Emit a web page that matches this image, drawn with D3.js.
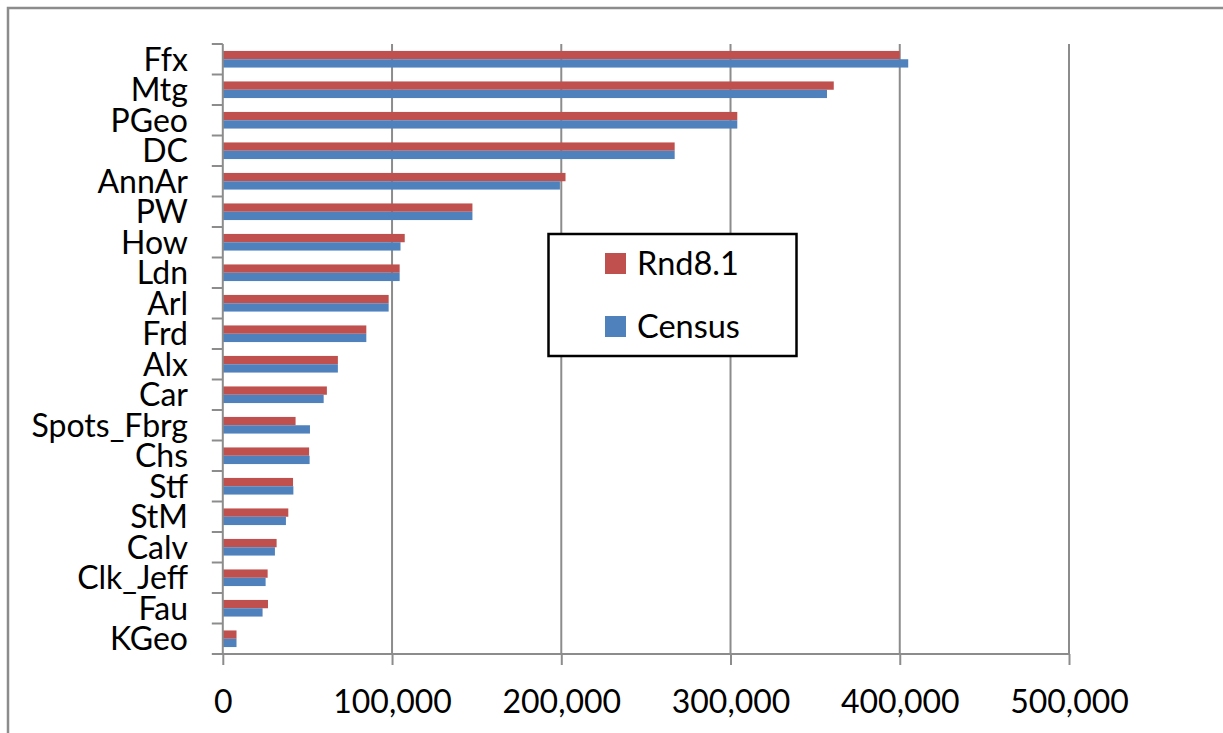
<!DOCTYPE html>
<html>
<head>
<meta charset="utf-8">
<script src="https://cdn.jsdelivr.net/npm/d3@7"></script>
<style>
  html, body { margin: 0; padding: 0; background: #ffffff; }
  svg { display: block; }
  text { font-family: Lato, "Liberation Sans", sans-serif; fill: #000; }
</style>
</head>
<body>
<svg id="chart" width="1223" height="733"></svg>
<script>
// County population: model round 8.1 vs. census counts
const categories = ["Ffx", "Mtg", "PGeo", "DC", "AnnAr", "PW", "How", "Ldn", "Arl", "Frd",
  "Alx", "Car", "Spots_Fbrg", "Chs", "Stf", "StM", "Calv", "Clk_Jeff", "Fau", "KGeo"];
const seriesNames = ["Rnd8.1", "Census"];
const rnd81 = [400000, 361000, 304000, 267000, 202500, 147500, 107500, 104500, 98000, 84800,
  68000, 61500, 43000, 51000, 41500, 38700, 31800, 26500, 26700, 8100];
const census = [405000, 357000, 304000, 267000, 199200, 147500, 105000, 104500, 98000, 84800,
  68000, 59600, 51500, 51300, 41700, 37300, 30800, 25300, 23500, 8100];
const xTicks = [0, 100000, 200000, 300000, 400000, 500000];
const seriesColors = ["#C0504D", "#4F81BD"];

const svg = d3.select("#chart");
const axisGray = "#8c8c8c";

// outer chart frame
svg.append("rect")
  .attr("x", 8).attr("y", 8)
  .attr("width", 1240).attr("height", 760)
  .attr("fill", "#fff")
  .attr("stroke", axisGray).attr("stroke-width", 2.5);

const plot = { left: 222.8, right: 1069, top: 44, bottom: 654 };

const x = d3.scaleLinear().domain([0, 500000]).range([plot.left, plot.right]);
const y = d3.scaleBand().domain(categories).range([plot.top, plot.bottom])
  .paddingInner(0.455).paddingOuter(0.2275);
const ySub = d3.scaleBand().domain(seriesNames).range([0, y.bandwidth()]);
// category boundary positions for the y-axis tick marks
const yEdge = d3.scaleLinear().domain([0, categories.length]).range([plot.top, plot.bottom]);

// vertical gridlines
svg.append("g").selectAll("line")
  .data(xTicks.filter(d => d > 0))
  .join("line")
  .attr("x1", d => x(d)).attr("x2", d => x(d))
  .attr("y1", plot.top).attr("y2", plot.bottom)
  .attr("stroke", axisGray).attr("stroke-width", 2);

// bars
const rows = categories.map((c, i) => ({ cat: c, values: [rnd81[i], census[i]] }));
svg.append("g").selectAll("g")
  .data(rows)
  .join("g")
  .attr("transform", d => `translate(0,${y(d.cat)})`)
  .selectAll("rect")
  .data(d => d.values.map((v, k) => ({ name: seriesNames[k], value: v, k })))
  .join("rect")
  .attr("x", x(0))
  .attr("y", d => ySub(d.name))
  .attr("width", d => x(d.value) - x(0))
  .attr("height", ySub.bandwidth())
  .attr("fill", d => seriesColors[d.k]);

// x axis
const xAxis = d3.axisBottom(x).tickValues(xTicks).tickFormat(d3.format(",")).tickSize(11).tickPadding(0);
const gx = svg.append("g").attr("transform", `translate(0,${plot.bottom})`).call(xAxis);
gx.select(".domain").attr("stroke", axisGray).attr("stroke-width", 2)
  .attr("d", `M${plot.left - 10},0H${plot.right}`);
gx.selectAll(".tick line").attr("stroke", axisGray).attr("stroke-width", 2);
gx.selectAll(".tick text").attr("font-size", 32).attr("y", 59).attr("dy", 0)
  .style("font-family", "Lato, sans-serif").attr("fill", "#000");

// y axis line and category boundary ticks
svg.append("line")
  .attr("x1", plot.left).attr("x2", plot.left)
  .attr("y1", plot.top).attr("y2", plot.bottom)
  .attr("stroke", axisGray).attr("stroke-width", 2);
svg.append("g").selectAll("line")
  .data(d3.range(categories.length + 1))
  .join("line")
  .attr("x1", plot.left - 11).attr("x2", plot.left)
  .attr("y1", d => yEdge(d)).attr("y2", d => yEdge(d))
  .attr("stroke", axisGray).attr("stroke-width", 2);

// category labels
svg.append("g").selectAll("text")
  .data(categories)
  .join("text")
  .attr("x", 188)
  .attr("y", d => y(d) + y.bandwidth() / 2 + 11.5)
  .attr("text-anchor", "end")
  .attr("font-size", 32)
  .text(d => d);

// legend
const legend = svg.append("g");
legend.append("rect")
  .attr("x", 548.5).attr("y", 234)
  .attr("width", 248).attr("height", 122)
  .attr("fill", "#fff").attr("stroke", "#000").attr("stroke-width", 2.5);
const legendRows = legend.selectAll("g.item")
  .data(seriesNames)
  .join("g").attr("class", "item")
  .attr("transform", (d, i) => `translate(605,${253 + i * 63})`);
legendRows.append("rect")
  .attr("width", 21).attr("height", 21)
  .attr("fill", (d, i) => seriesColors[i]);
legendRows.append("text")
  .attr("x", 32).attr("y", 21.5)
  .attr("font-size", 32.5)
  .text(d => d);
</script>
</body>
</html>
